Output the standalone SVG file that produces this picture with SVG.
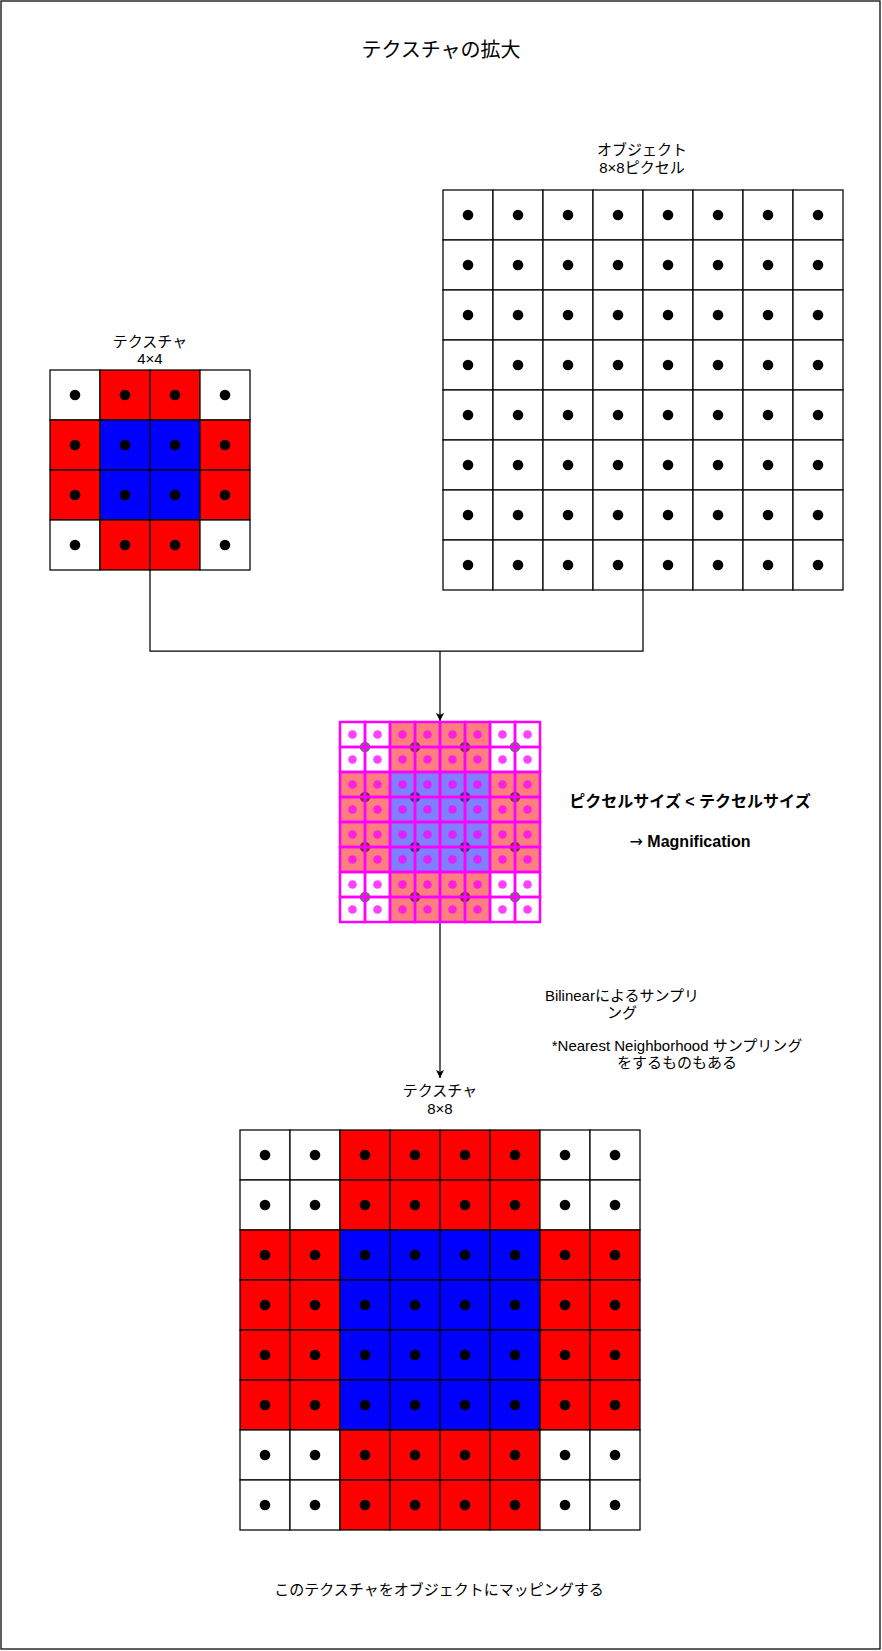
<svg xmlns="http://www.w3.org/2000/svg" xmlns:xlink="http://www.w3.org/1999/xlink" width="882" height="1651" viewBox="0 0 882 1651">
<style>
text{font-family:"Liberation Sans","Noto Sans CJK JP",sans-serif;font-size:15px;fill:#000;text-anchor:middle}
.title{font-size:20px}
.b{font-weight:bold;font-size:16px}
.ar{font-family:"DejaVu Sans",sans-serif;font-weight:normal}
.edge{fill:none;stroke:#000;stroke-width:1.25}
</style>
<defs>
<g id="cW"><rect width="50" height="50" fill="#fff" stroke="#000" stroke-width="1.25"/><circle cx="25" cy="25" r="5.3" fill="#000"/></g>
<g id="cR"><rect width="50" height="50" fill="#f00" stroke="#000" stroke-width="1.25"/><circle cx="25" cy="25" r="5.3" fill="#000"/></g>
<g id="cB"><rect width="50" height="50" fill="#00f" stroke="#000" stroke-width="1.25"/><circle cx="25" cy="25" r="5.3" fill="#000"/></g>
<rect id="tR" width="50" height="50" fill="#f00" fill-opacity="0.5"/>
<rect id="tB" width="50" height="50" fill="#00f" fill-opacity="0.5"/>
<circle id="dk" r="5.3" fill="#000" fill-opacity="0.55"/>
<g id="sc"><rect width="25" height="25" fill="none" stroke="#f0f" stroke-width="2.5"/><circle cx="12.5" cy="12.5" r="4.3" fill="#f0f" fill-opacity="0.75"/></g>
<marker id="arr" markerUnits="userSpaceOnUse" markerWidth="10" markerHeight="10" refX="8" refY="4" orient="auto"><path d="M0,0 L8,4 L0,8 L2,4 z" fill="#000"/></marker>
</defs>
<rect x="1" y="1" width="879" height="1648" fill="#fff" stroke="#000" stroke-width="1.25"/>
<text class="title" x="441" y="57">テクスチャの拡大</text>

<g id="connectors">
<path class="edge" d="M150,570 V651 H643 V590"/>
<path class="edge" d="M440,651 V721" marker-end="url(#arr)"/>
<path class="edge" d="M440,922 V1078" marker-end="url(#arr)"/>
</g>

<g id="texture4x4">
<text x="150" y="347">テクスチャ</text>
<text x="150" y="364">4×4</text>
<use href="#cW" x="50" y="370"/><use href="#cR" x="100" y="370"/><use href="#cR" x="150" y="370"/><use href="#cW" x="200" y="370"/>
<use href="#cR" x="50" y="420"/><use href="#cB" x="100" y="420"/><use href="#cB" x="150" y="420"/><use href="#cR" x="200" y="420"/>
<use href="#cR" x="50" y="470"/><use href="#cB" x="100" y="470"/><use href="#cB" x="150" y="470"/><use href="#cR" x="200" y="470"/>
<use href="#cW" x="50" y="520"/><use href="#cR" x="100" y="520"/><use href="#cR" x="150" y="520"/><use href="#cW" x="200" y="520"/>
</g>

<g id="object8x8">
<text x="642" y="155">オブジェクト</text>
<text x="642" y="173">8×8ピクセル</text>
<use href="#cW" x="443" y="190"/><use href="#cW" x="493" y="190"/><use href="#cW" x="543" y="190"/><use href="#cW" x="593" y="190"/><use href="#cW" x="643" y="190"/><use href="#cW" x="693" y="190"/><use href="#cW" x="743" y="190"/><use href="#cW" x="793" y="190"/>
<use href="#cW" x="443" y="240"/><use href="#cW" x="493" y="240"/><use href="#cW" x="543" y="240"/><use href="#cW" x="593" y="240"/><use href="#cW" x="643" y="240"/><use href="#cW" x="693" y="240"/><use href="#cW" x="743" y="240"/><use href="#cW" x="793" y="240"/>
<use href="#cW" x="443" y="290"/><use href="#cW" x="493" y="290"/><use href="#cW" x="543" y="290"/><use href="#cW" x="593" y="290"/><use href="#cW" x="643" y="290"/><use href="#cW" x="693" y="290"/><use href="#cW" x="743" y="290"/><use href="#cW" x="793" y="290"/>
<use href="#cW" x="443" y="340"/><use href="#cW" x="493" y="340"/><use href="#cW" x="543" y="340"/><use href="#cW" x="593" y="340"/><use href="#cW" x="643" y="340"/><use href="#cW" x="693" y="340"/><use href="#cW" x="743" y="340"/><use href="#cW" x="793" y="340"/>
<use href="#cW" x="443" y="390"/><use href="#cW" x="493" y="390"/><use href="#cW" x="543" y="390"/><use href="#cW" x="593" y="390"/><use href="#cW" x="643" y="390"/><use href="#cW" x="693" y="390"/><use href="#cW" x="743" y="390"/><use href="#cW" x="793" y="390"/>
<use href="#cW" x="443" y="440"/><use href="#cW" x="493" y="440"/><use href="#cW" x="543" y="440"/><use href="#cW" x="593" y="440"/><use href="#cW" x="643" y="440"/><use href="#cW" x="693" y="440"/><use href="#cW" x="743" y="440"/><use href="#cW" x="793" y="440"/>
<use href="#cW" x="443" y="490"/><use href="#cW" x="493" y="490"/><use href="#cW" x="543" y="490"/><use href="#cW" x="593" y="490"/><use href="#cW" x="643" y="490"/><use href="#cW" x="693" y="490"/><use href="#cW" x="743" y="490"/><use href="#cW" x="793" y="490"/>
<use href="#cW" x="443" y="540"/><use href="#cW" x="493" y="540"/><use href="#cW" x="543" y="540"/><use href="#cW" x="593" y="540"/><use href="#cW" x="643" y="540"/><use href="#cW" x="693" y="540"/><use href="#cW" x="743" y="540"/><use href="#cW" x="793" y="540"/>
</g>

<g id="overlay">
<use href="#tR" x="390" y="722"/><use href="#tR" x="440" y="722"/>
<use href="#tR" x="340" y="772"/><use href="#tB" x="390" y="772"/><use href="#tB" x="440" y="772"/><use href="#tR" x="490" y="772"/>
<use href="#tR" x="340" y="822"/><use href="#tB" x="390" y="822"/><use href="#tB" x="440" y="822"/><use href="#tR" x="490" y="822"/>
<use href="#tR" x="390" y="872"/><use href="#tR" x="440" y="872"/>
<use href="#dk" x="365" y="747"/><use href="#dk" x="415" y="747"/><use href="#dk" x="465" y="747"/><use href="#dk" x="515" y="747"/>
<use href="#dk" x="365" y="797"/><use href="#dk" x="415" y="797"/><use href="#dk" x="465" y="797"/><use href="#dk" x="515" y="797"/>
<use href="#dk" x="365" y="847"/><use href="#dk" x="415" y="847"/><use href="#dk" x="465" y="847"/><use href="#dk" x="515" y="847"/>
<use href="#dk" x="365" y="897"/><use href="#dk" x="415" y="897"/><use href="#dk" x="465" y="897"/><use href="#dk" x="515" y="897"/>
<use href="#sc" x="340" y="722"/><use href="#sc" x="365" y="722"/><use href="#sc" x="390" y="722"/><use href="#sc" x="415" y="722"/><use href="#sc" x="440" y="722"/><use href="#sc" x="465" y="722"/><use href="#sc" x="490" y="722"/><use href="#sc" x="515" y="722"/>
<use href="#sc" x="340" y="747"/><use href="#sc" x="365" y="747"/><use href="#sc" x="390" y="747"/><use href="#sc" x="415" y="747"/><use href="#sc" x="440" y="747"/><use href="#sc" x="465" y="747"/><use href="#sc" x="490" y="747"/><use href="#sc" x="515" y="747"/>
<use href="#sc" x="340" y="772"/><use href="#sc" x="365" y="772"/><use href="#sc" x="390" y="772"/><use href="#sc" x="415" y="772"/><use href="#sc" x="440" y="772"/><use href="#sc" x="465" y="772"/><use href="#sc" x="490" y="772"/><use href="#sc" x="515" y="772"/>
<use href="#sc" x="340" y="797"/><use href="#sc" x="365" y="797"/><use href="#sc" x="390" y="797"/><use href="#sc" x="415" y="797"/><use href="#sc" x="440" y="797"/><use href="#sc" x="465" y="797"/><use href="#sc" x="490" y="797"/><use href="#sc" x="515" y="797"/>
<use href="#sc" x="340" y="822"/><use href="#sc" x="365" y="822"/><use href="#sc" x="390" y="822"/><use href="#sc" x="415" y="822"/><use href="#sc" x="440" y="822"/><use href="#sc" x="465" y="822"/><use href="#sc" x="490" y="822"/><use href="#sc" x="515" y="822"/>
<use href="#sc" x="340" y="847"/><use href="#sc" x="365" y="847"/><use href="#sc" x="390" y="847"/><use href="#sc" x="415" y="847"/><use href="#sc" x="440" y="847"/><use href="#sc" x="465" y="847"/><use href="#sc" x="490" y="847"/><use href="#sc" x="515" y="847"/>
<use href="#sc" x="340" y="872"/><use href="#sc" x="365" y="872"/><use href="#sc" x="390" y="872"/><use href="#sc" x="415" y="872"/><use href="#sc" x="440" y="872"/><use href="#sc" x="465" y="872"/><use href="#sc" x="490" y="872"/><use href="#sc" x="515" y="872"/>
<use href="#sc" x="340" y="897"/><use href="#sc" x="365" y="897"/><use href="#sc" x="390" y="897"/><use href="#sc" x="415" y="897"/><use href="#sc" x="440" y="897"/><use href="#sc" x="465" y="897"/><use href="#sc" x="490" y="897"/><use href="#sc" x="515" y="897"/>
</g>

<g id="magnification-label">
<text class="b" x="690" y="807">ピクセルサイズ &lt; テクセルサイズ</text>
<text class="b" x="690" y="847"><tspan class="ar">→</tspan> Magnification</text>
</g>

<g id="bilinear-label">
<text x="622" y="1001">Bilinearによるサンプリ</text>
<text x="622" y="1018">ング</text>
</g>

<g id="nearest-label">
<text x="677" y="1051">*Nearest Neighborhood サンプリング</text>
<text x="677" y="1068">をするものもある</text>
</g>

<g id="texture8x8">
<text x="440" y="1096">テクスチャ</text>
<text x="440" y="1114">8×8</text>
<use href="#cW" x="240" y="1130"/><use href="#cW" x="290" y="1130"/><use href="#cR" x="340" y="1130"/><use href="#cR" x="390" y="1130"/><use href="#cR" x="440" y="1130"/><use href="#cR" x="490" y="1130"/><use href="#cW" x="540" y="1130"/><use href="#cW" x="590" y="1130"/>
<use href="#cW" x="240" y="1180"/><use href="#cW" x="290" y="1180"/><use href="#cR" x="340" y="1180"/><use href="#cR" x="390" y="1180"/><use href="#cR" x="440" y="1180"/><use href="#cR" x="490" y="1180"/><use href="#cW" x="540" y="1180"/><use href="#cW" x="590" y="1180"/>
<use href="#cR" x="240" y="1230"/><use href="#cR" x="290" y="1230"/><use href="#cB" x="340" y="1230"/><use href="#cB" x="390" y="1230"/><use href="#cB" x="440" y="1230"/><use href="#cB" x="490" y="1230"/><use href="#cR" x="540" y="1230"/><use href="#cR" x="590" y="1230"/>
<use href="#cR" x="240" y="1280"/><use href="#cR" x="290" y="1280"/><use href="#cB" x="340" y="1280"/><use href="#cB" x="390" y="1280"/><use href="#cB" x="440" y="1280"/><use href="#cB" x="490" y="1280"/><use href="#cR" x="540" y="1280"/><use href="#cR" x="590" y="1280"/>
<use href="#cR" x="240" y="1330"/><use href="#cR" x="290" y="1330"/><use href="#cB" x="340" y="1330"/><use href="#cB" x="390" y="1330"/><use href="#cB" x="440" y="1330"/><use href="#cB" x="490" y="1330"/><use href="#cR" x="540" y="1330"/><use href="#cR" x="590" y="1330"/>
<use href="#cR" x="240" y="1380"/><use href="#cR" x="290" y="1380"/><use href="#cB" x="340" y="1380"/><use href="#cB" x="390" y="1380"/><use href="#cB" x="440" y="1380"/><use href="#cB" x="490" y="1380"/><use href="#cR" x="540" y="1380"/><use href="#cR" x="590" y="1380"/>
<use href="#cW" x="240" y="1430"/><use href="#cW" x="290" y="1430"/><use href="#cR" x="340" y="1430"/><use href="#cR" x="390" y="1430"/><use href="#cR" x="440" y="1430"/><use href="#cR" x="490" y="1430"/><use href="#cW" x="540" y="1430"/><use href="#cW" x="590" y="1430"/>
<use href="#cW" x="240" y="1480"/><use href="#cW" x="290" y="1480"/><use href="#cR" x="340" y="1480"/><use href="#cR" x="390" y="1480"/><use href="#cR" x="440" y="1480"/><use href="#cR" x="490" y="1480"/><use href="#cW" x="540" y="1480"/><use href="#cW" x="590" y="1480"/>
</g>

<g id="caption">
<text x="439" y="1595">このテクスチャをオブジェクトにマッピングする</text>
</g>
</svg>
